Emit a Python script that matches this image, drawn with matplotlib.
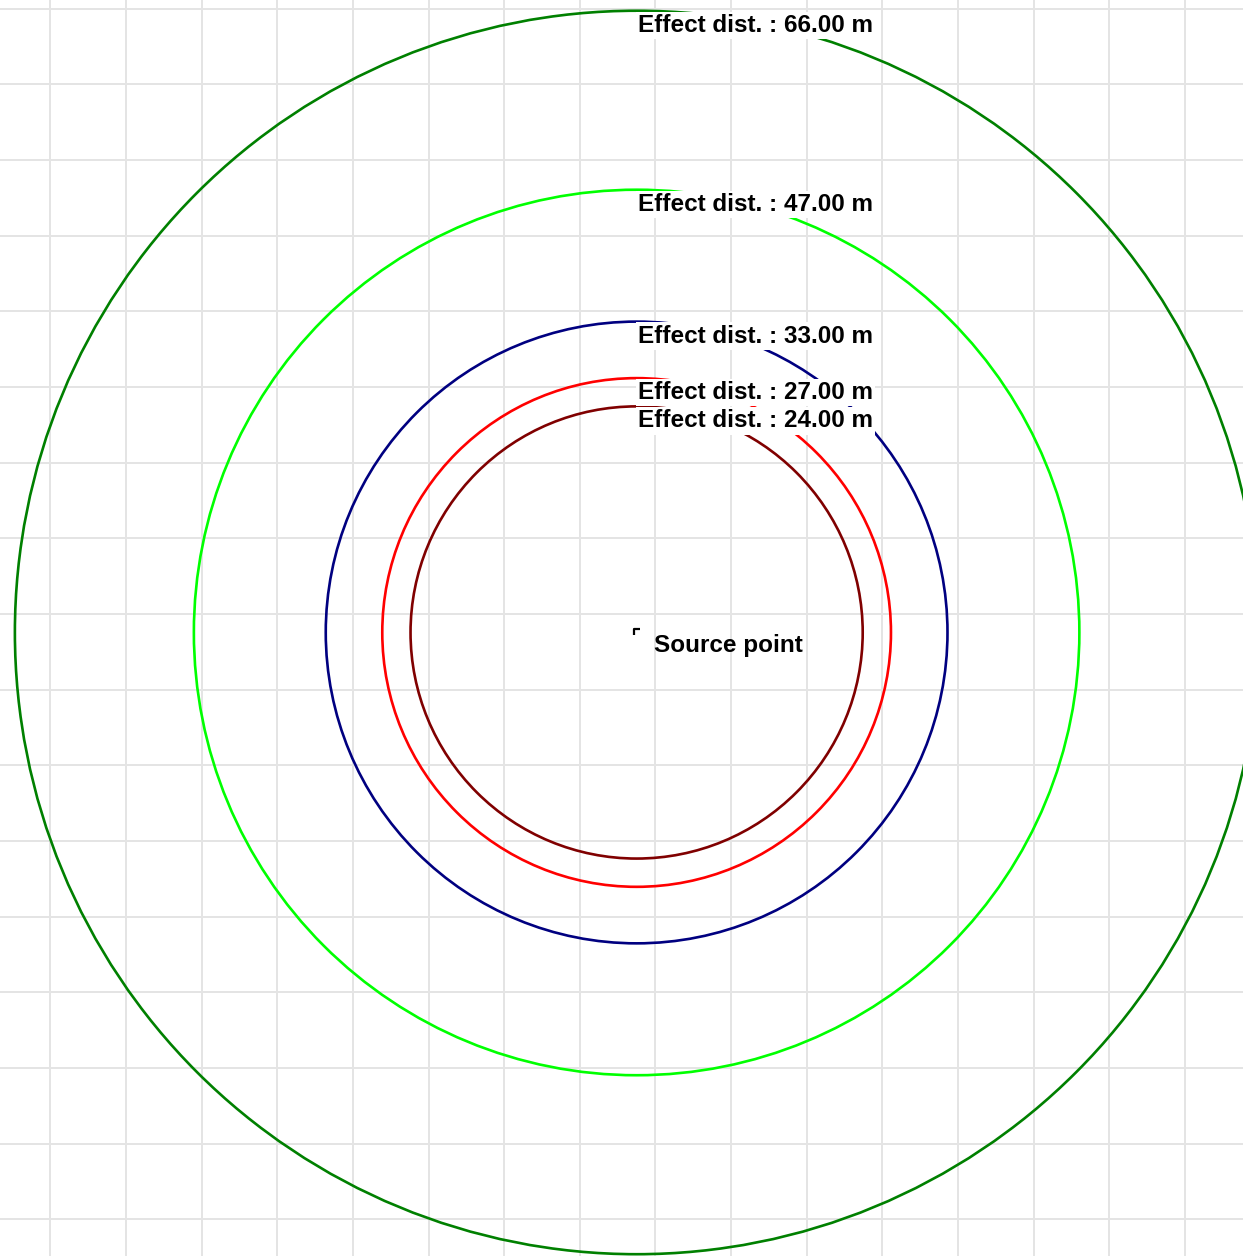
import numpy as np
import matplotlib
matplotlib.use("Agg")
import matplotlib.pyplot as plt
from matplotlib.patches import Circle
from matplotlib.path import Path
from matplotlib.markers import MarkerStyle

# effect distances (m) and their colours
radii = [66.0, 47.0, 33.0, 27.0, 24.0]
ring_colors = ['#008000', '#00ff00', '#000080', '#ff0000', '#800000']
ring_labels = ['Effect dist. : 66.00 m', 'Effect dist. : 47.00 m',
               'Effect dist. : 33.00 m', 'Effect dist. : 27.00 m',
               'Effect dist. : 24.00 m']
source_xy = (0.0, 0.0)
source_label = 'Source point'

# view window (m), picture is 9.42 px per metre
x_min, x_max = -67.58, 64.37
y_min, y_max = -66.19, 67.14
grid_step = 8.03
grid_x0, grid_y0 = 2.0, 1.96

plt.rcParams['font.family'] = ['Liberation Sans', 'DejaVu Sans']

fig = plt.figure(figsize=(12.43, 12.56), dpi=100)
ax = fig.add_axes([0, 0, 1, 1])
ax.set_xlim(x_min, x_max)
ax.set_ylim(y_min, y_max)

# background grid
gx = np.concatenate([np.arange(grid_x0, x_max, grid_step),
                     np.arange(grid_x0 - grid_step, x_min, -grid_step)])
gy = np.concatenate([np.arange(grid_y0, y_max, grid_step),
                     np.arange(grid_y0 - grid_step, y_min, -grid_step)])
ax.set_xticks(np.sort(gx))
ax.set_yticks(np.sort(gy))
ax.grid(True, color='#e4e4e4', linewidth=1.4)
ax.set_axisbelow(True)
ax.tick_params(length=0, labelbottom=False, labelleft=False)
for s in ax.spines.values():
    s.set_visible(False)

# rings
for r, c in zip(radii, ring_colors):
    ax.add_patch(Circle(source_xy, r, fill=False, edgecolor=c, linewidth=1.9, zorder=2))

# labels sit at the top of each ring on a white box
for r, lab in zip(radii, ring_labels):
    ax.annotate(lab, xy=(source_xy[0], source_xy[1] + r), xytext=(1.5, -21),
                textcoords='offset pixels', ha='left', va='baseline',
                fontsize=17.5, fontweight='bold', color='black', zorder=4,
                bbox=dict(facecolor='white', edgecolor='none', pad=1.5))

# source point marker (small corner)
corner = Path([(-1, -1), (-1, 1), (1, 1)], [Path.MOVETO, Path.LINETO, Path.LINETO])
ax.plot([source_xy[0]], [source_xy[1]], linestyle='none',
        marker=MarkerStyle(corner), markersize=5, markerfacecolor='none',
        markeredgecolor='black', markeredgewidth=1.6, zorder=5)
ax.annotate(source_label, xy=source_xy, xytext=(17, -20), textcoords='offset pixels',
            ha='left', va='baseline', fontsize=17.5, fontweight='bold', color='black',
            zorder=5)

fig.savefig('out.png', dpi=100, facecolor='white')
